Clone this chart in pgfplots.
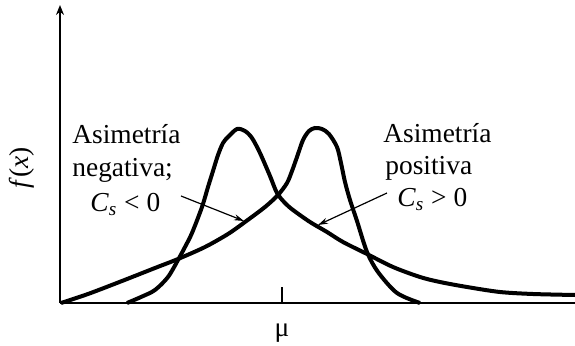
\documentclass[border=0pt]{standalone}
\usepackage{fontspec}
\setmainfont{Liberation Serif}
\usepackage{pgfplots}
\pgfplotsset{compat=1.18}
\usetikzlibrary{arrows.meta}

% both curves, x = px - 60, y = 303 - py
\pgfplotstableread{
x y
1 0
28 9
62 22
95 35
118 44
145 56
168 69
185 81
205 96
218 108
227 120
232 132
237 146
243 163
249 172
255 175
262 174
269 169
277 156
281 140
285 121
290 103
297 82
307 51
318 31
337 10
360 0
}\negskew
\pgfplotstableread{
x y
67 0
81 6
95 13
108 26
118 43
125 56
132 70
142 96
148 116
153 132
158 148
163 160
168 166
177 174
185 172
192 165
200 150
210 127
217 110
225 100
233 93
250 81
267 71
283 61
307 49
333 36
360 26
380 21
407 16
440 11
473 9
515 8
}\posskew

\begin{document}
\begin{tikzpicture}[font=\fontsize{13.7}{16}\selectfont]
\path[use as bounding box] (-30pt,-21pt) rectangle (257.5pt,151.5pt);
\begin{axis}[
  scale only axis, width=257.5pt, height=149pt,
  xmin=0, xmax=515, ymin=0, ymax=298,
  axis lines=left, clip=false,
  x axis line style={-, line width=0.7pt},
  y axis line style={-{Stealth[length=5pt,width=4pt]}, line width=0.7pt},
  xtick={222}, xticklabels={\mbox{μ}}, ytick=\empty,
  tick align=inside, major tick length=8pt,
  tick style={line width=0.7pt, black},
  xticklabel style={yshift=-7pt},
]
\addplot[smooth, line width=2pt] table {\negskew};
\addplot[smooth, line width=2pt] table {\posskew};

\node[rotate=90] at (axis cs:-38,135) {\textit{f}(\textit{x})};

\node[anchor=base west, inner sep=0] at (axis cs:12,160) {Asimetría};
\node[anchor=base west, inner sep=0] at (axis cs:12,127) {negativa;};
\node[anchor=base west, inner sep=0] at (axis cs:30,92) {\textit{C}\textsubscript{\textit{s}} < 0};
\draw[-{Stealth[length=5pt,width=3pt]}, line width=0.6pt] (axis cs:121,107) -- (axis cs:184,82);

\node[anchor=base west, inner sep=0] at (axis cs:323,161) {Asimetría};
\node[anchor=base west, inner sep=0] at (axis cs:325,129) {positiva};
\node[anchor=base west, inner sep=0] at (axis cs:337,97) {\textit{C}\textsubscript{\textit{s}} > 0};
\draw[-{Stealth[length=5pt,width=3pt]}, line width=0.6pt] (axis cs:327,110) -- (axis cs:258,78);
\end{axis}
\end{tikzpicture}
\end{document}
